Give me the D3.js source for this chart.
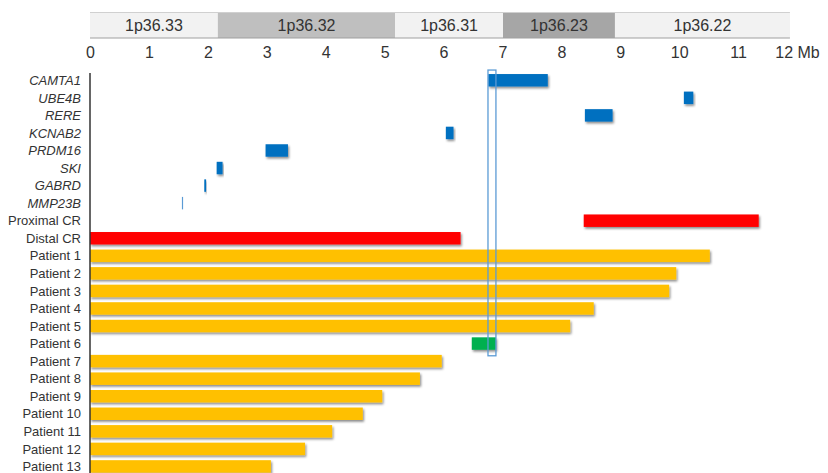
<!DOCTYPE html>
<html>
<head>
<meta charset="utf-8">
<script src="https://cdn.jsdelivr.net/npm/d3@7"></script>
<style>
  html, body { margin: 0; padding: 0; background: #fff; }
  svg { display: block; font-family: "Liberation Sans", Arial, sans-serif; }
</style>
</head>
<body>
<svg id="chart" width="828" height="473"></svg>
<script>
// Cytogenetic bands of 1p36 (Mb)
const bandNames  = ["1p36.33", "1p36.32", "1p36.31", "1p36.23", "1p36.22"];
const bandStarts = [0, 2.17, 5.18, 7.01, 8.91];
const bandEnds   = [2.17, 5.18, 7.01, 8.91, 11.88];
const bandShades = ["light", "dark", "light", "darker", "light"];

// Axis ticks (Mb)
const tickValues = [0, 1, 2, 3, 4, 5, 6, 7, 8, 9, 10, 11, 12];

// Genes
const geneNames  = ["CAMTA1", "UBE4B", "RERE", "KCNAB2", "PRDM16", "SKI", "GABRD", "MMP23B"];
const geneStarts = [6.76, 10.08, 8.40, 6.04, 2.98, 2.15, 1.94, 1.56];
const geneEnds   = [7.77, 10.24, 8.87, 6.17, 3.36, 2.25, 1.97, 1.58];

// Critical regions
const crNames  = ["Proximal CR", "Distal CR"];
const crStarts = [8.38, 0];
const crEnds   = [11.35, 6.29];

// Patient deletions
const patientNames  = ["Patient 1", "Patient 2", "Patient 3", "Patient 4", "Patient 5", "Patient 6",
                       "Patient 7", "Patient 8", "Patient 9", "Patient 10", "Patient 11", "Patient 12", "Patient 13"];
const patientStarts = [0, 0, 0, 0, 0, 6.48, 0, 0, 0, 0, 0, 0, 0];
const patientEnds   = [10.52, 9.95, 9.83, 8.55, 8.15, 6.89, 5.97, 5.60, 4.96, 4.63, 4.11, 3.65, 3.07];
const interstitial  = ["Patient 6"];

// Highlighted overlap window (Mb)
const overlapStart = 6.755;
const overlapEnd   = 6.89;

const svg = d3.select("#chart");

const x = d3.scaleLinear().domain([0, 12]).range([90, 797]);

const rowNames = geneNames.concat(crNames, patientNames);
const y = d3.scaleBand()
  .domain(rowNames)
  .range([71.5, 475.2])
  .paddingInner(0.29)
  .paddingOuter(0.145);

const shadeColor = { light: "#f2f2f2", dark: "#bfbfbf", darker: "#a6a6a6" };

// Drop shadow for bars
const defs = svg.append("defs");
const f = defs.append("filter").attr("id", "shadow")
  .attr("x", "-10%").attr("y", "-40%").attr("width", "130%").attr("height", "200%");
f.append("feDropShadow").attr("dx", 1.2).attr("dy", 1.8).attr("stdDeviation", 0.9)
  .attr("flood-color", "#000").attr("flood-opacity", 0.45);

// Band ideogram
const bands = bandNames.map((n, i) => ({ name: n, s: bandStarts[i], e: bandEnds[i], shade: bandShades[i] }));
const bandG = svg.append("g");
bandG.selectAll("rect").data(bands).join("rect")
  .attr("x", d => x(d.s)).attr("width", d => x(d.e) - x(d.s))
  .attr("y", 12.5).attr("height", 25.5)
  .attr("fill", d => shadeColor[d.shade]);
bandG.append("line").attr("x1", x(0)).attr("x2", x(bandEnds[bandEnds.length - 1]))
  .attr("y1", 12.5).attr("y2", 12.5).attr("stroke", "#d0d0d0").attr("stroke-width", 1);
bandG.append("line").attr("x1", x(0)).attr("x2", x(bandEnds[bandEnds.length - 1]))
  .attr("y1", 38).attr("y2", 38).attr("stroke", "#a0a0a0").attr("stroke-width", 1.2);
bandG.selectAll("text").data(bands).join("text")
  .attr("x", d => (x(d.s) + x(d.e)) / 2).attr("y", 31)
  .attr("text-anchor", "middle").attr("font-size", 16).attr("fill", "#333")
  .text(d => d.name);

// Top axis with Mb labels
const axis = d3.axisTop(x).tickValues(tickValues).tickSize(0).tickPadding(0)
  .tickFormat(d => d === 12 ? "12 Mb" : String(d));
const axG = svg.append("g").attr("transform", "translate(0,58)").call(axis);
axG.select(".domain").remove();
axG.selectAll("text").attr("font-size", 16).attr("fill", "#333")
  .attr("font-family", "'Liberation Sans', Arial, sans-serif");

// Row labels
const labelG = svg.append("g");
labelG.selectAll("text").data(rowNames).join("text")
  .attr("x", 81).attr("y", d => y(d) + y.bandwidth() / 2)
  .attr("dy", "0.36em").attr("text-anchor", "end").attr("font-size", 13)
  .attr("fill", "#333")
  .attr("font-style", d => geneNames.includes(d) ? "italic" : "normal")
  .text(d => d);

// Bars
const genes = geneNames.map((n, i) => ({ row: n, s: geneStarts[i], e: geneEnds[i], color: n === "MMP23B" ? "#5b9bd5" : "#0070c0" }));
const crs = crNames.map((n, i) => ({ row: n, s: crStarts[i], e: crEnds[i], color: "#ff0000" }));
const patients = patientNames.map((n, i) => ({ row: n, s: patientStarts[i], e: patientEnds[i],
  color: interstitial.includes(n) ? "#00b050" : "#ffc000" }));

const barG = svg.append("g");
barG.selectAll("rect").data(genes.concat(crs, patients)).join("rect")
  .attr("x", d => x(d.s))
  .attr("width", d => Math.max(1, x(d.e) - x(d.s)))
  .attr("y", d => y(d.row))
  .attr("height", y.bandwidth())
  .attr("fill", d => d.color)
  .attr("filter", d => d.row === "MMP23B" ? null : "url(#shadow)");

// Vertical baseline
svg.append("line").attr("x1", x(0)).attr("x2", x(0))
  .attr("y1", 73).attr("y2", 473).attr("stroke", "#333").attr("stroke-width", 1.5);

// Overlap window outline
svg.append("rect")
  .attr("x", x(overlapStart)).attr("width", x(overlapEnd) - x(overlapStart))
  .attr("y", y("CAMTA1") - 4)
  .attr("height", y("Patient 6") + y.bandwidth() + 6 - (y("CAMTA1") - 4))
  .attr("fill", "none").attr("stroke", "#5b9bd5").attr("stroke-width", 1.3);
</script>
</body>
</html>
